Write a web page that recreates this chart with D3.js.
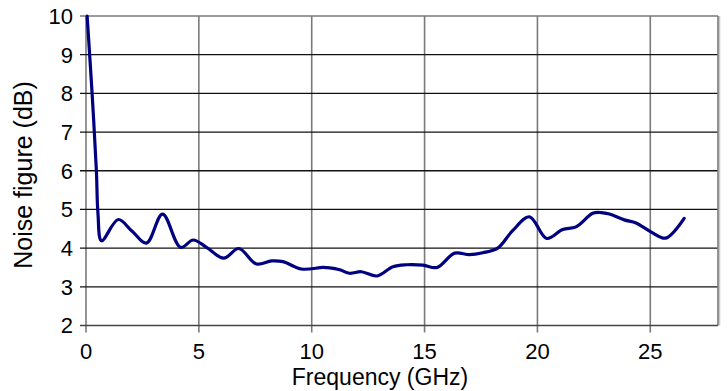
<!DOCTYPE html>
<html>
<head>
<meta charset="utf-8">
<script src="https://cdn.jsdelivr.net/npm/d3@7"></script>
<style>
  html, body { margin: 0; padding: 0; background: #fff; }
  svg { display: block; }
  text { font-family: "Liberation Sans", Arial, sans-serif; fill: #000; }
</style>
</head>
<body>
<svg id="chart" width="728" height="391"></svg>
<script>
// Data
const frequencyGHz = [0.05, 0.27, 0.46, 0.53, 0.69, 1.43, 2.02, 2.68, 3.39, 4.19, 4.75, 5.34, 6.1, 6.77, 7.55, 8.22, 8.73, 9.54, 10.5, 10.8, 11.24, 11.68, 12.2, 12.89, 13.6, 14.19, 14.93, 15.55, 16.33, 16.99, 17.58, 18.24, 18.9, 19.65, 20.41, 21.12, 21.71, 22.45, 22.82, 23.19, 23.85, 24.37, 25.03, 25.69, 26.5];
const noiseFigureDB = [10.0, 8.0, 6.0, 4.9, 4.19, 4.74, 4.45, 4.13, 4.88, 4.02, 4.21, 4.02, 3.74, 3.99, 3.59, 3.67, 3.65, 3.46, 3.5, 3.49, 3.44, 3.35, 3.39, 3.28, 3.52, 3.57, 3.56, 3.5, 3.87, 3.83, 3.88, 4.0, 4.45, 4.81, 4.25, 4.48, 4.55, 4.9, 4.92, 4.88, 4.73, 4.65, 4.42, 4.26, 4.77];
const xTicks = [0, 5, 10, 15, 20, 25];
const yTicks = [2, 3, 4, 5, 6, 7, 8, 9, 10];
const xDomain = [0, 28];
const yDomain = [2, 10];
const xTitle = "Frequency (GHz)";
const yTitle = "Noise figure (dB)";

const svg = d3.select("#chart");
const mLeft = 86, mRight = 718, mTop = 16, mBottom = 325.5;

const x = d3.scaleLinear().domain(xDomain).range([mLeft, mRight]);
const y = d3.scaleLinear().domain(yDomain).range([mBottom, mTop]);

// vertical gridlines (gray)
svg.append("g").selectAll("line").data(xTicks).join("line")
  .attr("x1", d => x(d)).attr("x2", d => x(d))
  .attr("y1", mTop).attr("y2", mBottom + 7)
  .attr("stroke", "#7a7a7a").attr("stroke-width", 1.6);

// horizontal gridlines (black)
svg.append("g").selectAll("line").data(yTicks.filter(d => d > 2 && d < 10)).join("line")
  .attr("x1", mLeft - 6).attr("x2", mRight)
  .attr("y1", d => y(d)).attr("y2", d => y(d))
  .attr("stroke", "#111").attr("stroke-width", 1.3);

// plot border: top, right (gray), bottom axis
svg.append("line").attr("x1", mLeft - 6).attr("x2", mRight).attr("y1", y(10)).attr("y2", y(10))
  .attr("stroke", "#7a7a7a").attr("stroke-width", 1.6);
svg.append("line").attr("x1", mRight + 1.5).attr("x2", mRight + 1.5).attr("y1", mTop).attr("y2", mBottom)
  .attr("stroke", "#c8c8c8").attr("stroke-width", 1.5);
svg.append("line").attr("x1", mRight).attr("x2", mRight).attr("y1", mTop).attr("y2", mBottom)
  .attr("stroke", "#7a7a7a").attr("stroke-width", 1.6);
svg.append("line").attr("x1", mLeft - 6).attr("x2", mRight).attr("y1", y(2)).attr("y2", y(2))
  .attr("stroke", "#444").attr("stroke-width", 1.5);

// tick labels
svg.append("g").selectAll("text").data(yTicks).join("text")
  .attr("x", 73).attr("y", d => y(d)).attr("dy", "0.36em")
  .attr("text-anchor", "end").attr("font-size", 22)
  .text(d => d);
svg.append("g").selectAll("text").data(xTicks).join("text")
  .attr("x", d => x(d)).attr("y", 359)
  .attr("text-anchor", "middle").attr("font-size", 22)
  .text(d => d);

// axis titles
svg.append("text").attr("x", 380).attr("y", 385)
  .attr("text-anchor", "middle").attr("font-size", 23).text(xTitle);
svg.append("text").attr("transform", "translate(32,175) rotate(-90)")
  .attr("text-anchor", "middle").attr("font-size", 25).text(yTitle);

// data line
const line = d3.line()
  .x((d, i) => x(frequencyGHz[i]))
  .y(d => y(d))
  .curve(d3.curveCatmullRom.alpha(0.5));

svg.append("path").datum(noiseFigureDB)
  .attr("d", line)
  .attr("fill", "none")
  .attr("stroke", "#000080")
  .attr("stroke-width", 3.2)
  .attr("stroke-linejoin", "round")
  .attr("stroke-linecap", "round");
</script>
</body>
</html>
